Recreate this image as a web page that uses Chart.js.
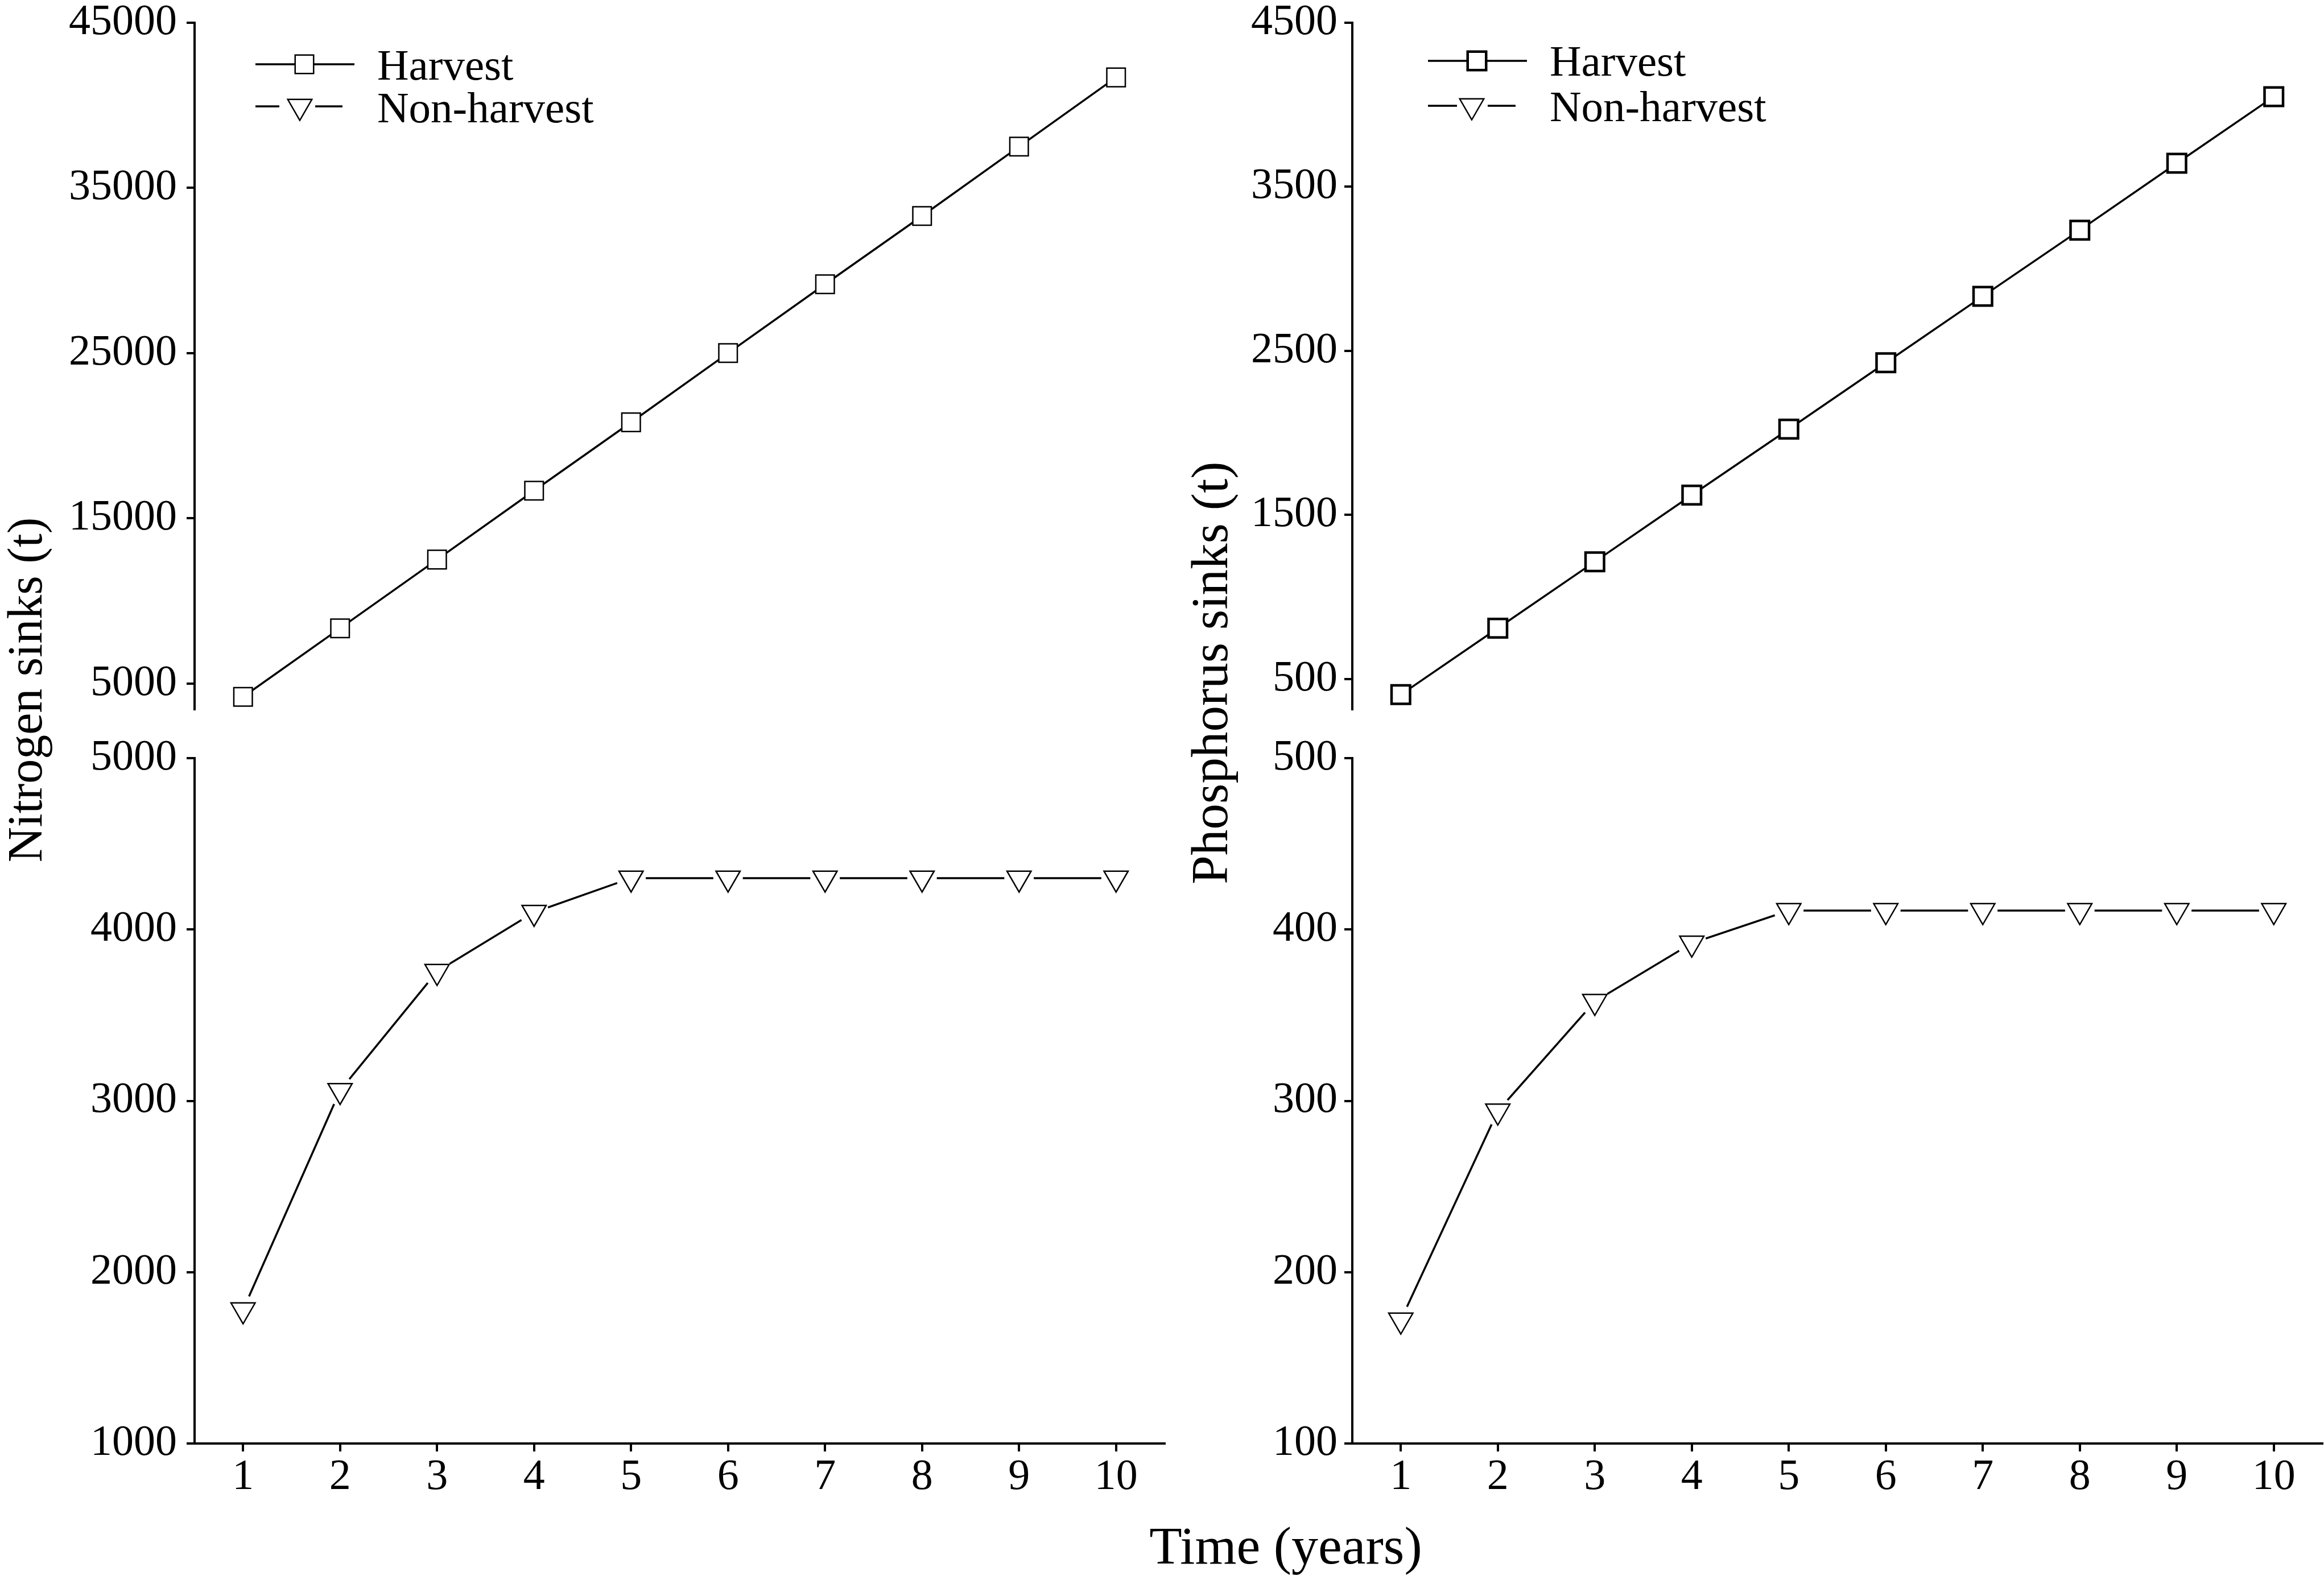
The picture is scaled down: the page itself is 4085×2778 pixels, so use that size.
<!DOCTYPE html>
<html>
<head>
<meta charset="utf-8">
<script src="https://cdn.jsdelivr.net/npm/chart.js@4.4.1/dist/chart.umd.min.js"></script>
<style>
html,body{margin:0;padding:0;background:#fff;}
body{width:4085px;height:2778px;position:relative;overflow:hidden;font-family:"Liberation Serif","Times New Roman",serif;}
canvas{position:absolute;}
.lbl{position:absolute;white-space:nowrap;line-height:1;color:#000;font-family:"Liberation Serif","Times New Roman",serif;}
</style>
</head>
<body>
<div class="lbl" id="yTitleN" style="left:44px;top:1213px;font-size:86px;transform:translate(-50%,-50%) rotate(-90deg);">Nitrogen sinks (t)</div>
<div class="lbl" id="yTitleP" style="left:2126px;top:1183px;font-size:91px;transform:translate(-50%,-50%) rotate(-90deg);">Phosphorus sinks (t)</div>
<div class="lbl" id="xTitle" style="left:2260px;top:2670px;font-size:94px;transform:translateX(-50%);">Time (years)</div>
<script>
// ---------------- data ----------------
const years = [1, 2, 3, 4, 5, 6, 7, 8, 9, 10];
const xTickValues = [1, 2, 3, 4, 5, 6, 7, 8, 9, 10];
const seriesNames = ['Harvest', 'Non-harvest'];

const nitrogenHarvest    = [4190, 8340, 12500, 16670, 20810, 25000, 29170, 33300, 37500, 41690];
const nitrogenNonHarvest = [1780, 3060, 3755, 4100, 4300, 4300, 4300, 4300, 4300, 4300];
const phosphorusHarvest    = [405, 810, 1215, 1621, 2023, 2428, 2833, 3236, 3644, 4049];
const phosphorusNonHarvest = [172, 294, 358, 392, 411, 411, 411, 411, 411, 411];

const nTopTicks    = [5000, 15000, 25000, 35000, 45000];
const nBottomTicks = [1000, 2000, 3000, 4000, 5000];
const pTopTicks    = [500, 1500, 2500, 3500, 4500];
const pBottomTicks = [100, 200, 300, 400, 500];

// ---------------- helpers ----------------
Chart.defaults.font.family = '"Liberation Serif", "Times New Roman", serif';
Chart.defaults.color = '#000';

function pairs(vals) { return years.map((x, i) => ({ x: x, y: vals[i] })); }

function harvestSet(vals, bw) {
  return {
    label: seriesNames[0], data: pairs(vals), order: 0,
    borderColor: '#000', borderWidth: 3.5,
    pointStyle: 'rect', pointRadius: 23,
    pointBackgroundColor: '#fff', pointBorderColor: '#000', pointBorderWidth: bw,
    clip: false
  };
}
function nonHarvestSets(vals) {
  return [
    { label: seriesNames[1], data: pairs(vals), order: 0, showLine: false,
      pointStyle: 'triangle', pointRotation: 180, pointRadius: 24.5,
      pointBackgroundColor: '#fff', pointBorderColor: '#000', pointBorderWidth: 2.5, clip: false },
    { label: 'halo', data: pairs(vals), order: 1, showLine: false,
      pointStyle: 'circle', pointRadius: 26,
      pointBackgroundColor: '#fff', pointBorderColor: '#fff', pointBorderWidth: 0, clip: false },
    { label: 'line', data: pairs(vals), order: 2,
      borderColor: '#000', borderWidth: 3.5, pointRadius: 0, clip: false }
  ];
}

const axisGrid = { display: true, drawOnChartArea: false, drawTicks: true, tickLength: 14,
  tickWidth: 4, tickColor: '#000', color: '#000', lineWidth: 4 };
const axisBorder = { display: true, color: '#000', width: 4 };

function yScale(min, max, tickVals, width, pad) {
  return {
    type: 'linear', position: 'left', min: min, max: max,
    afterBuildTicks: s => { s.ticks = tickVals.map(v => ({ value: v })); },
    afterFit: s => { s.width = width; s.paddingTop = 0; s.paddingBottom = 0; },
    ticks: { callback: v => String(v), font: { size: 76, lineHeight: 1 }, color: '#000',
      padding: pad, autoSkip: false },
    grid: axisGrid, border: axisBorder
  };
}
function xScaleBottom(height) {
  return {
    type: 'linear', position: 'bottom', min: 0.5, max: 10.5,
    afterBuildTicks: s => { s.ticks = xTickValues.map(v => ({ value: v })); },
    afterFit: s => { s.height = height; s.paddingLeft = 0; s.paddingRight = 0; },
    ticks: { callback: v => String(v), font: { size: 76, lineHeight: 1 }, color: '#000',
      padding: 8, maxRotation: 0, autoSkip: false },
    grid: axisGrid, border: axisBorder
  };
}
const xScaleHidden = { type: 'linear', display: false, min: 0.5, max: 10.5 };

// custom legend (line through marker, as in the figure)
const legendPlugin = {
  id: 'customLegend',
  afterDraw(chart, args, o) {
    if (!o || !o.items) return;
    const ctx = chart.ctx;
    ctx.save();
    ctx.strokeStyle = '#000';
    ctx.fillStyle = '#000';
    o.items.forEach(it => {
      ctx.lineWidth = 3.5;
      it.segs.forEach(sg => {
        ctx.beginPath(); ctx.moveTo(sg[0], it.y); ctx.lineTo(sg[1], it.y); ctx.stroke();
      });
      ctx.beginPath();
      if (it.marker === 'rect') {
        const h = 16.25;
        ctx.rect(it.mx - h, it.y - h, 2 * h, 2 * h);
      } else {
        const r = 24.5;
        ctx.moveTo(it.mx, it.y + r);
        ctx.lineTo(it.mx - r * Math.sqrt(3) / 2, it.y - r / 2);
        ctx.lineTo(it.mx + r * Math.sqrt(3) / 2, it.y - r / 2);
        ctx.closePath();
      }
      ctx.fillStyle = '#fff'; ctx.fill();
      ctx.lineWidth = it.bw; ctx.stroke();
      ctx.fillStyle = '#000';
      ctx.font = '77px "Liberation Serif", "Times New Roman", serif';
      ctx.textBaseline = 'alphabetic'; ctx.textAlign = 'left';
      ctx.fillText(it.text, it.tx, it.ty);
    });
    ctx.restore();
  }
};

function makeChart(cfg) {
  const c = document.createElement('canvas');
  c.width = cfg.w; c.height = cfg.h;
  c.style.left = cfg.left + 'px'; c.style.top = cfg.top + 'px';
  c.style.width = cfg.w + 'px'; c.style.height = cfg.h + 'px';
  document.body.appendChild(c);
  return new Chart(c.getContext('2d'), {
    type: 'line',
    data: { datasets: cfg.datasets },
    options: {
      responsive: false, maintainAspectRatio: false, animation: false,
      devicePixelRatio: 1, events: [],
      layout: { autoPadding: false,
        padding: { left: 0, top: cfg.padTop, right: cfg.padRight, bottom: cfg.padBottom } },
      elements: { line: { tension: 0 } },
      scales: { x: cfg.x, y: cfg.y },
      plugins: { legend: { display: false }, tooltip: { enabled: false },
        customLegend: cfg.legend || {} }
    },
    plugins: cfg.legend ? [legendPlugin] : []
  });
}

// ---------------- Nitrogen (left) ----------------
makeChart({
  left: 0, top: 0, w: 2060, h: 1290, padTop: 40, padRight: 13, padBottom: 43,
  x: xScaleHidden,
  y: yScale(3440, 45000, nTopTicks, 342, 17),
  datasets: [harvestSet(nitrogenHarvest, 2.5)],
  legend: { items: [
    { text: seriesNames[0], marker: 'rect', y: 113, segs: [[449, 623]], mx: 535, bw: 2.5, tx: 663, ty: 140 },
    { text: seriesNames[1], marker: 'tri', y: 187, segs: [[449, 491], [554, 602]], mx: 527, bw: 2.5, tx: 663, ty: 215 }
  ] }
});
makeChart({
  left: 0, top: 1250, w: 2060, h: 1528, padTop: 83, padRight: 13, padBottom: 0,
  x: xScaleBottom(240),
  y: yScale(1000, 5000, nBottomTicks, 342, 17),
  datasets: nonHarvestSets(nitrogenNonHarvest)
});

// ---------------- Phosphorus (right) ----------------
makeChart({
  left: 2100, top: 0, w: 1985, h: 1290, padTop: 40, padRight: 3, padBottom: 43,
  x: xScaleHidden,
  y: yScale(316, 4500, pTopTicks, 277, 12),
  datasets: [harvestSet(phosphorusHarvest, 4.5)],
  legend: { items: [
    { text: seriesNames[0], marker: 'rect', y: 107, segs: [[410, 584]], mx: 496, bw: 4.5, tx: 624, ty: 133 },
    { text: seriesNames[1], marker: 'tri', y: 186, segs: [[410, 461], [515, 564]], mx: 487, bw: 2.5, tx: 624, ty: 213 }
  ] }
});
makeChart({
  left: 2100, top: 1250, w: 1985, h: 1528, padTop: 83, padRight: 3, padBottom: 0,
  x: xScaleBottom(240),
  y: yScale(100, 500, pBottomTicks, 277, 12),
  datasets: nonHarvestSets(phosphorusNonHarvest)
});
</script>
</body>
</html>
